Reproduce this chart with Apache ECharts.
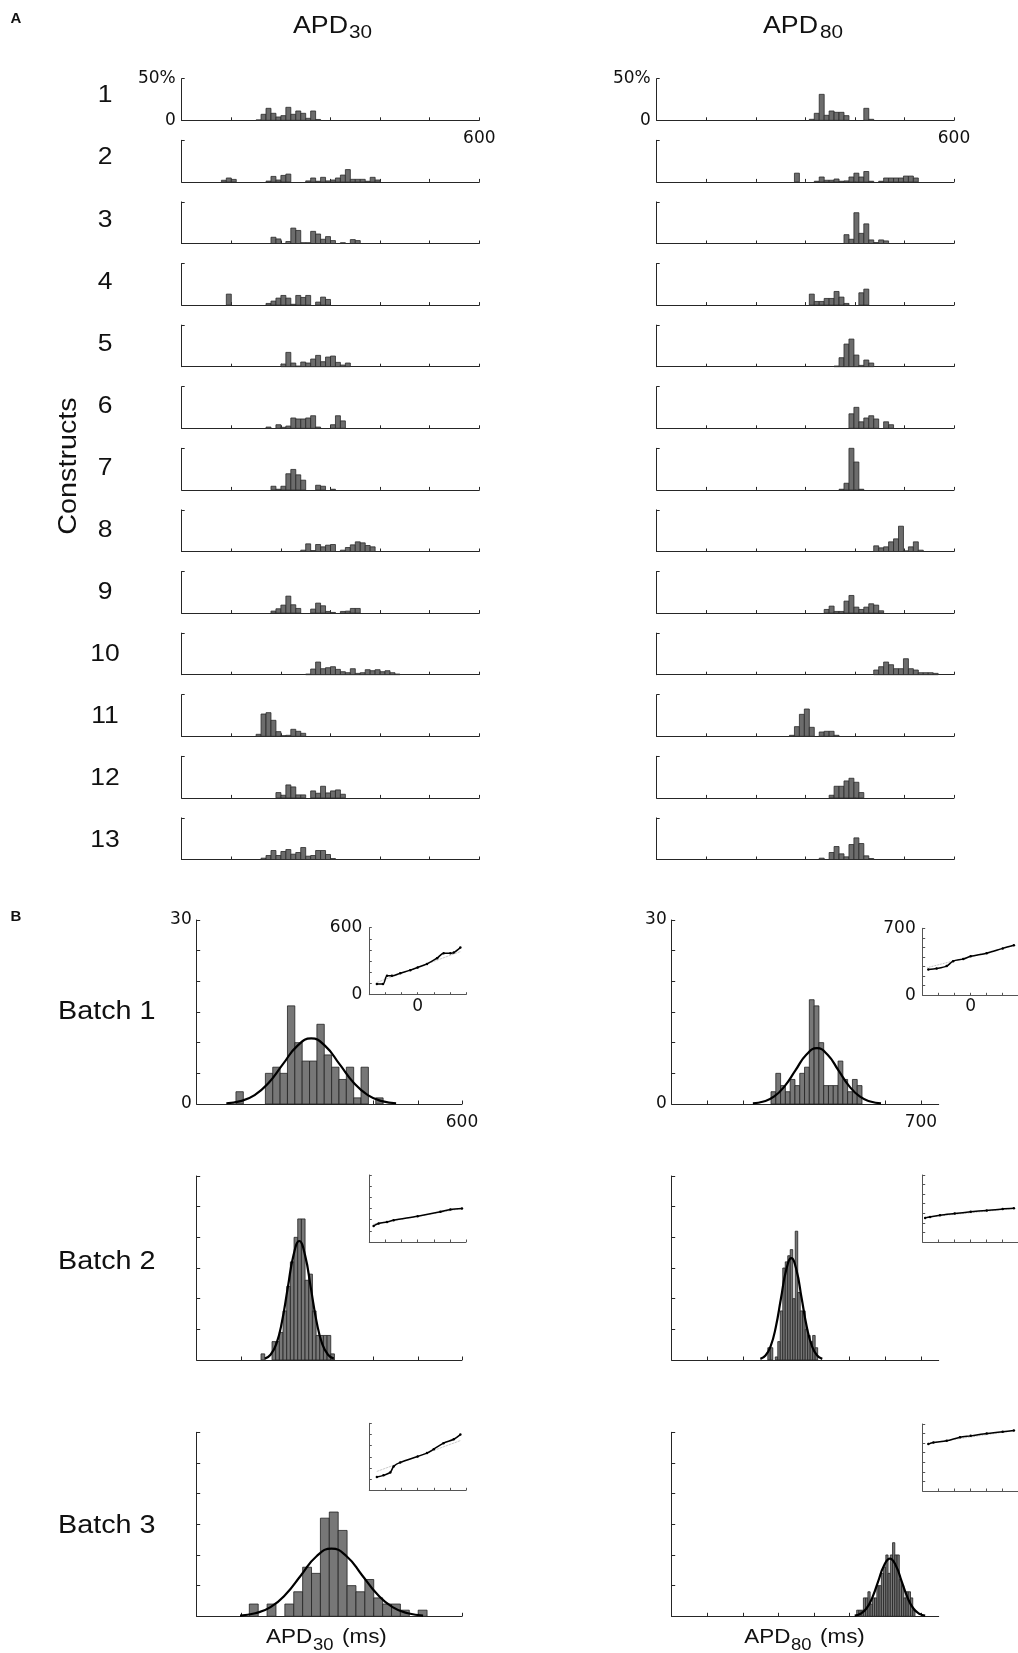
<!DOCTYPE html>
<html><head><meta charset="utf-8">
<script src="https://cdn.jsdelivr.net/npm/echarts@6/dist/echarts.min.js"></script>
<style>html,body{margin:0;padding:0;background:#fff}#c{width:1018px;height:1653px}</style>
</head><body><div id="c"></div>
<script>
// ---------------- DATA ----------------
const constructLabels = ['1','2','3','4','5','6','7','8','9','10','11','12','13'];
const rowBinWidth = 10;
const apd30Start = [150, 80, 180, 90, 200, 170, 180, 240, 180, 250, 150, 190, 160];
const apd30Pct = [
  [0.5,7.2,14.4,8.4,4,5.6,15.6,7.2,11.2,8.4,2.4,11.2,1],
  [2,4.7,3,0,0,0,0,0,0,1,6.6,2.3,7.8,9.4,0,0,0,1.2,4.7,0.8,5.5,1.2,2.3,4.7,8.2,14.8,3.1,3.1,3.1,0.8,5.5,2.3],
  [7.5,5.5,0,2.4,18.5,15.7,1,1,14.6,11.4,5.1,8.3,3.5,0,1,0,4.7,3.5],
  [13.2,0,0,0,0,0,0,0,2,4.8,8.4,11.6,8.4,1,11.6,9.2,11.6,0,3.6,9.6,6.8],
  [3.2,17.2,4.4,0.8,5.6,4.4,9.2,13.6,6,11.6,12.8,5.2,2,4.4],
  [1.5,0,4.3,1.2,2.7,12.4,11.2,11.2,12.4,15.1,1.5,0,0,4.3,15.1,8.9],
  [4.4,0.8,4.4,19.4,24.6,18.1,11.7,0,0,5.6,4.4,0,0.8],
  [1.6,9.2,1.2,8.4,5.6,7.6,8.4,0,1.6,4.8,8,11.6,10.4,7.2,5.6],
  [2.4,5.2,9.6,20.4,10,5.6,0,0,4.8,12,8.8,2,0.8,0,2,2.4,5.6,5.6],
  [0.8,6.8,15.2,7.2,8.4,9.6,6.4,3.6,2.4,7.2,1.6,2.4,6,4.8,6,3.6,4.8,2.4,0.8],
  [2.4,26.8,28.4,19.2,5.6,0.8,1.2,8.4,6,3.6],
  [6.4,3.2,15.6,13.2,3.6,3.6,0,8.4,5.6,14,6,8.4,9.6,4.4],
  [1.6,4.8,10.8,4.8,9.6,12,6.4,8.4,14.4,4,4.8,10.8,10.8,6,1.2]
];
const apd80Start = [308, 278, 378, 308, 358, 388, 368, 438, 338, 438, 268, 348, 328];
const apd80Pct = [
  [1.2,8.4,31.2,6,11.2,9.6,9.6,5.6,0,0,0,14.4,1.2],
  [10.5,0,0,0,0.8,5.9,2,2,3.5,0.8,1.2,5.9,10.5,5.9,12.5,0.8,0,0.8,4.7,4.7,4.7,4.7,7,7,4.7],
  [10.6,5.1,37,12.2,23.6,4.3,1.2,4.3,3.1],
  [13.2,4.4,4.4,8,8,16.4,9.6,2,0,0,14.8,19.2],
  [0.8,10.8,27.2,33.2,14,1.6,8,4.4],
  [17.4,25.2,7.8,12.4,15.1,11.2,0,7.8,4.3],
  [0.8,8,50,33.5,0.8],
  [6.8,4.4,5.6,11.6,15.2,30.4,0.8,5.6,11.6,1.6],
  [4.4,8.4,2,2,14.4,21.2,7.2,4.4,7.2,11.2,9.6,2.8],
  [5.6,9.6,15.2,12,7.2,7.2,19.2,7.2,5.6,2.4,2.4,2.4,1.6],
  [1.2,11.6,26.4,32.8,10.8,0,5.2,6,6,1.2],
  [3.2,14,14,20.4,23.6,18.8,6.4],
  [1.6,0,8.4,15.6,6.8,3.2,18,26,19.2,4.4,1.2]
];

const batchLabels = ['Batch 1','Batch 2','Batch 3'];
// APD30 batch histograms
const b30Start = [88.8, 145.5, 119];
const b30Width = [16.64, 8.3, 20.1];
const b30Counts = [
  [2,0,0,0,5,6,5,16,10,7,7,13,8,6,4,6,1,6,0,1],
  [1,0,0,3,3,4.5,8,12,16,20,23,23,13,14,8,4,4,4,4,1],
  [2,0,2,0,2,4,8,7,16,17,14,5,4,6,3,2,2,1,0,1]
];
const b30Fit = [
  [[67,0.12],[99,0.47],[131,1.45],[163,3.47],[195,6.49],[227,9.44],[259,10.7],[291,9.44],[323,6.49],[355,3.47],[387,1.45],[419,0.47],[451,0.12]],
  [[154,0.22],[167,0.85],[180,2.6],[193,6.3],[206,11.8],[219,17.1],[232,19.4],[245,17.1],[258,11.8],[271,6.3],[284,2.6],[297,0.85],[310,0.22]],
  [[98,0.12],[132.5,0.49],[167,1.49],[201.5,3.59],[236,6.7],[270.5,9.75],[305,11.05],[339.5,9.75],[374,6.7],[408.5,3.59],[443,1.49],[477.5,0.49],[512,0.12]]
];
// APD80 batch histograms
const b80Start = [279, 270, 519.6];
const b80Width = [13.45, 7, 6.3];
const b80Counts = [
  [2,5,3,2,4,3,5,6,17,16,10,3,3,3,7,4,2,4,3],
  [2,2,0,0.5,3,8,15,16,17,18,10,21,11,8,8,5,4,3,4,2],
  [1,1,1,3,3,4,2,3,3,5,5,7,8,10,7,10,12,10,10,6,5,3,4,4,3,1]
];
const b80Fit = [
  [[228,0.1],[258,0.4],[288,1.23],[318,2.95],[348,5.52],[378,8.03],[408,9.1],[438,8.03],[468,5.52],[498,2.95],[528,1.23],[558,0.4],[588,0.1]],
  [[249,0.18],[263.5,0.73],[278,2.25],[292.5,5.39],[307,10.07],[321.5,14.65],[336,16.6],[350.5,14.65],[365,10.07],[379.5,5.39],[394,2.25],[408.5,0.73],[423,0.18]],
  [[514,0.1],[530.5,0.41],[547,1.27],[563.5,3.05],[580,5.7],[596.5,8.3],[613,9.4],[629.5,8.3],[646,5.7],[662.5,3.05],[679,1.27],[695.5,0.41],[712,0.1]]
];
// normal probability (QQ) insets: [theoretical quantile, APD ms]
const qq30 = [
  [[-2.53,95],[-2.15,95],[-1.9,169],[-1.6,169],[-1.08,193],[-0.46,220],[0,244],[0.58,276],[1.2,327],[1.61,371],[2.03,371],[2.24,377],[2.65,422]],
  [[-2.73,144],[-2.42,165],[-1.9,180],[-1.49,195],[0,231],[1.41,270],[2.03,291],[2.75,300]],
  [[-2.53,119],[-2.12,134],[-1.7,160],[-1.49,214],[-1.08,250],[0,303],[0.58,333],[1.0,368],[1.6,422],[2.24,457],[2.65,499]]
];
const qq30Ref = [ [[-2.53,110],[2.65,386]], [[-2.73,160],[2.75,300]], [[-2.53,169],[2.65,445]] ];
const qq80 = [
  [[-2.65,270],[-2.13,280],[-1.5,305],[-1.1,357],[-0.47,378],[0,407],[1,440],[2,490],[2.7,522]],
  [[-2.85,252],[-2.54,262],[-1.92,280],[-1,297],[0,315],[1,330],[2,345],[2.7,352]],
  [[-2.65,490],[-2.33,507],[-1.5,524],[-0.67,562],[0,576],[1,600],[2,620],[2.7,632]]
];
const qq80Ref = [ [[-2.7,290],[2.7,520]], [[-2.85,258],[2.7,350]], [[-2.65,500],[2.7,630]] ];

// ---------------- BUILD ----------------
const AXC = '#262626';
const grids = [], xAxes = [], yAxes = [], series = [];

function valueAxis(gi, min, max, ticks, labels, o) {
  o = o || {};
  const col = o.color || AXC;
  return {
    type: 'value', gridIndex: gi, min: min, max: max,
    axisLine: { show: true, onZero: false, lineStyle: { color: col, width: 1 } },
    axisTick: { show: true, inside: true, length: o.tickLen || 3, customValues: ticks, lineStyle: { color: col, width: 1 } },
    axisLabel: { show: labels.length > 0, customValues: labels, margin: o.margin == null ? 6 : o.margin,
      fontFamily: 'DejaVu Sans', fontSize: 17, color: '#111', showMinLabel: true, showMaxLabel: true,
      padding: o.pad || 0,
      formatter: o.formatter || (v => String(v)) },
    splitLine: { show: false }
  };
}
function addGrid(l, t, w, h) {
  grids.push({ left: l, top: t, width: w, height: h, containLabel: false, outerBoundsMode: 'none' });
  return grids.length - 1;
}
function hist(gi, start, w, vals, st) {
  const data = [];
  vals.forEach((v, i) => { if (v > 0) data.push([start + i * w, start + (i + 1) * w, v]); });
  return {
    type: 'custom', xAxisIndex: gi, yAxisIndex: gi, data: data, silent: true, z: 2,
    encode: { x: [0, 1], y: 2 },
    renderItem: function (params, api) {
      const p0 = api.coord([api.value(0), api.value(2)]);
      const p1 = api.coord([api.value(1), 0]);
      return { type: 'rect', shape: { x: p0[0], y: p0[1], width: p1[0] - p0[0], height: p1[1] - p0[1] },
        style: { fill: st.fill, stroke: st.stroke, lineWidth: st.lw } };
    }
  };
}
const range = (a, b, s) => { const r = []; for (let v = a; v <= b + 1e-9; v += s) r.push(v); return r; };

// Panel A
const styleA = { fill: '#6c6c6c', stroke: '#2a2a2a', lw: 0.8 };
for (let i = 0; i < 13; i++) {
  const top = 78.7 + 61.6 * i;
  [[181.7, 297.6, apd30Start[i], apd30Pct[i]], [656.7, 297.3, apd80Start[i], apd80Pct[i]]].forEach(c => {
    const g = addGrid(c[0], top, c[1], 41.6);
    xAxes.push(valueAxis(g, 0, 600, range(0, 600, 100), i === 0 ? [600] : [], { margin: 9.5 }));
    yAxes.push(valueAxis(g, 0, 50, [0, 50], i === 0 ? [0, 50] : [], { margin: 6, formatter: v => v === 50 ? '50%' : String(v) }));
    series.push(hist(g, c[2], rowBinWidth, c[3], styleA));
  });
}

// Panel B
const styleB = { fill: '#777777', stroke: '#222222', lw: 0.8 };
const bTops = [920, 1176, 1432.3];
const insLTops = [927.7, 1175, 1423.3];
const insRTops = [928.3, 1175, 1424];
for (let b = 0; b < 3; b++) {
  // left main (APD30)
  let g = addGrid(196.7, bTops[b], 265.3, 184);
  xAxes.push(valueAxis(g, 0, 600, range(0, 600, 100), b === 0 ? [600] : [], { margin: 10, tickLen: 3.5 }));
  yAxes.push(valueAxis(g, 0, 30, range(0, 30, 5), b === 0 ? [0, 30] : [], { margin: 5, tickLen: 3.5, pad: [5, 0, 0, 0] }));
  series.push(hist(g, b30Start[b], b30Width[b], b30Counts[b], styleB));
  series.push({ type: 'line', xAxisIndex: g, yAxisIndex: g, data: b30Fit[b], smooth: true, symbol: 'none', silent: true, z: 5,
    lineStyle: { color: '#000', width: 2.2 } });
  // right main (APD80)
  g = addGrid(671.7, bTops[b], 267, 184);
  xAxes.push(valueAxis(g, 0, 750, range(0, 700, 100), b === 0 ? [700] : [], { margin: 10, tickLen: 3.5 }));
  yAxes.push(valueAxis(g, 0, 30, range(0, 30, 5), b === 0 ? [0, 30] : [], { margin: 5, tickLen: 3.5, pad: [5, 0, 0, 0] }));
  series.push(hist(g, b80Start[b], b80Width[b], b80Counts[b], styleB));
  series.push({ type: 'line', xAxisIndex: g, yAxisIndex: g, data: b80Fit[b], smooth: true, symbol: 'none', silent: true, z: 5,
    lineStyle: { color: '#000', width: 2.2 } });
  // insets
  [[369.3, insLTops[b], 96.7, 600, qq30[b], qq30Ref[b]], [922.7, insRTops[b], 96, 700, qq80[b], qq80Ref[b]]].forEach(c => {
    const gi = addGrid(c[0], c[1], c[2], 67);
    xAxes.push(valueAxis(gi, -3, 3, range(-3, 3, 1), b === 0 ? [0] : [], { margin: 3, tickLen: 2.5, color: '#555' }));
    yAxes.push(valueAxis(gi, 0, c[3], range(0, c[3], 100), b === 0 ? [0, c[3]] : [], { margin: 7, tickLen: 2.5, color: '#555' }));
    series.push({ type: 'line', xAxisIndex: gi, yAxisIndex: gi, data: c[5], symbol: 'none', silent: true, z: 3,
      lineStyle: { color: '#999', width: 0.8, type: 'dotted' } });
    series.push({ type: 'line', xAxisIndex: gi, yAxisIndex: gi, data: c[4], smooth: 0.3, symbol: 'circle', symbolSize: 2.5,
      showSymbol: true, silent: true, z: 4, itemStyle: { color: '#000' }, lineStyle: { color: '#000', width: 1.5 } });
  });
}

// Text
const FF = 'Liberation Sans';
const SX = 1.15;
function txt(x, y, text, size, o) {
  o = o || {};
  const al = o.align || 'left';
  return { type: 'text', x: x, y: y, rotation: o.rot || 0, scaleX: o.sx == null ? SX : o.sx, silent: true, z: 10,
    style: { text: text, fontSize: size, fontFamily: o.ff || FF, fontWeight: o.fw || 'normal', fill: '#111',
      align: al, textAlign: al, verticalAlign: 'middle', textVerticalAlign: 'middle' } };
}
const gfx = [];
gfx.push(txt(16, 19, 'A', 15, { fw: 'bold', align: 'center', sx: 1 }));
gfx.push(txt(16, 917, 'B', 15, { fw: 'bold', align: 'center', sx: 1 }));
// column titles
gfx.push(txt(293, 26.5, 'APD', 23, { sx: 1.163 }));
gfx.push(txt(349, 33, '30', 18));
gfx.push(txt(763, 26.5, 'APD', 23, { sx: 1.163 }));
gfx.push(txt(820, 33, '80', 18));
constructLabels.forEach((s, i) => gfx.push(txt(105, 96 + 62.08 * i, s, 23, { align: 'center' })));
gfx.push(txt(69.5, 466, 'Constructs', 25, { align: 'center', rot: Math.PI / 2 }));
batchLabels.forEach((s, i) => gfx.push(txt(58, [1012, 1262.5, 1526][i], s, 25)));
// x-axis titles
gfx.push(txt(266, 1638, 'APD', 19.5));
gfx.push(txt(313, 1645.5, '30', 16));
gfx.push(txt(342, 1638, '(ms)', 19.5));
gfx.push(txt(744.3, 1638, 'APD', 19.5));
gfx.push(txt(791, 1645.5, '80', 16));
gfx.push(txt(820, 1638, '(ms)', 19.5));

const chart = echarts.init(document.getElementById('c'), null, { renderer: 'canvas' });
chart.setOption({
  animation: false,
  backgroundColor: '#fff',
  grid: grids, xAxis: xAxes, yAxis: yAxes, series: series,
  graphic: { elements: gfx }
});
</script></body></html>
